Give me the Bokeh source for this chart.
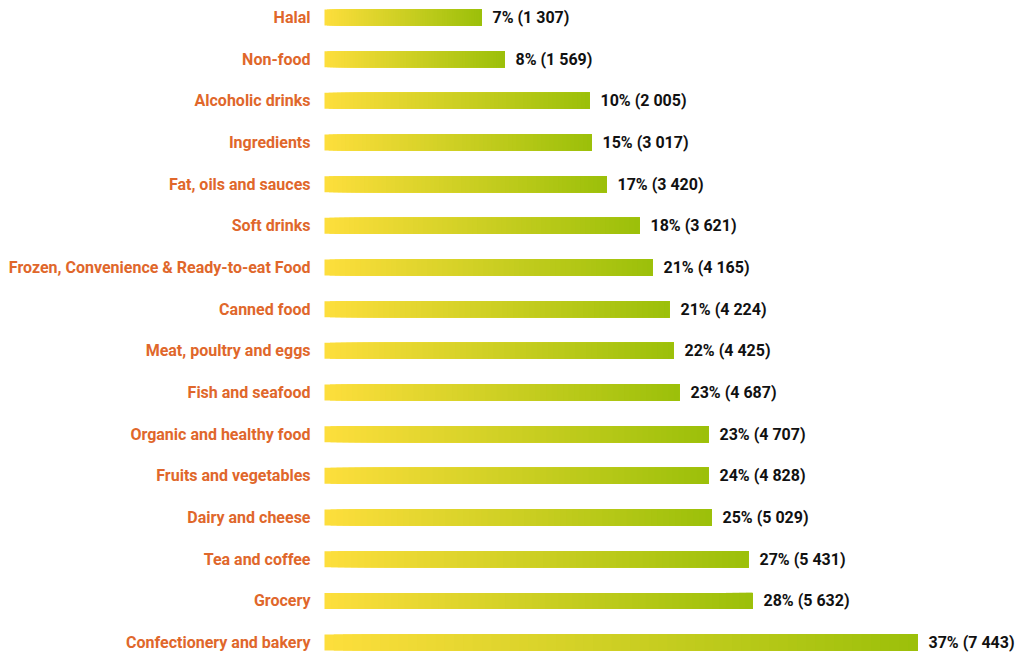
from bokeh.plotting import figure
from bokeh.models import Range1d, ColumnDataSource
from bokeh.core.properties import value
from bokeh.embed import file_html
from bokeh.resources import INLINE

categories = ["Halal", "Non-food", "Alcoholic drinks", "Ingredients", "Fat, oils and sauces",
              "Soft drinks", "Frozen, Convenience & Ready-to-eat Food", "Canned food",
              "Meat, poultry and eggs", "Fish and seafood", "Organic and healthy food",
              "Fruits and vegetables", "Dairy and cheese", "Tea and coffee", "Grocery",
              "Confectionery and bakery"]
percents = [7, 8, 10, 15, 17, 18, 21, 21, 22, 23, 23, 24, 25, 27, 28, 37]
counts = [1307, 1569, 2005, 3017, 3420, 3621, 4165, 4224, 4425, 4687, 4707, 4828, 5029, 5431, 5632, 7443]
# bar lengths as drawn in the reference (arbitrary display scale)
bar_lengths = [157, 180, 265, 267, 282, 315, 328, 345, 349, 355, 384, 384, 387, 424, 428, 593]

W, H = 1016, 656
x0 = 324
spacing = 41.67
top_center = 17

p = figure(width=W, height=H, output_backend="svg", toolbar_location=None,
           x_range=Range1d(-x0, W - x0),
           y_range=Range1d((H - top_center) / spacing, -top_center / spacing),
           min_border=0, outline_line_color=None)
p.axis.visible = False
p.grid.visible = False
p.background_fill_color = "white"
p.border_fill_color = "white"

ys = list(range(len(categories)))

c0 = (253, 222, 60)
c1 = (156, 192, 10)
N = 64
for k in range(N):
    t = k / (N - 1)
    col = "#%02x%02x%02x" % tuple(int(round(a + (b - a) * t)) for a, b in zip(c0, c1))
    lefts = [L * k / N for L in bar_lengths]
    p.hbar(y=ys, left=lefts, right=bar_lengths, height=16 / spacing,
           fill_color=col, line_color=None)

labels = [f"{pc}% ({n:,})".replace(",", " ") for pc, n in zip(percents, counts)]
src = ColumnDataSource(dict(y=ys, x=bar_lengths, cat=categories, lab=labels,
                            zero=[0] * len(ys)))
p.text(x="zero", y="y", text="cat", source=src, x_offset=-14, y_offset=0,
       text_align="right", text_baseline="middle",
       text_font=value("Roboto"), text_font_style="bold", text_font_size="16px",
       text_color="#e0672b")
p.text(x="x", y="y", text="lab", source=src, x_offset=11, y_offset=0,
       text_align="left", text_baseline="middle",
       text_font=value("Roboto"), text_font_style="bold", text_font_size="16px",
       text_color="#111111")

open("out.html", "w").write(file_html(p, INLINE))
